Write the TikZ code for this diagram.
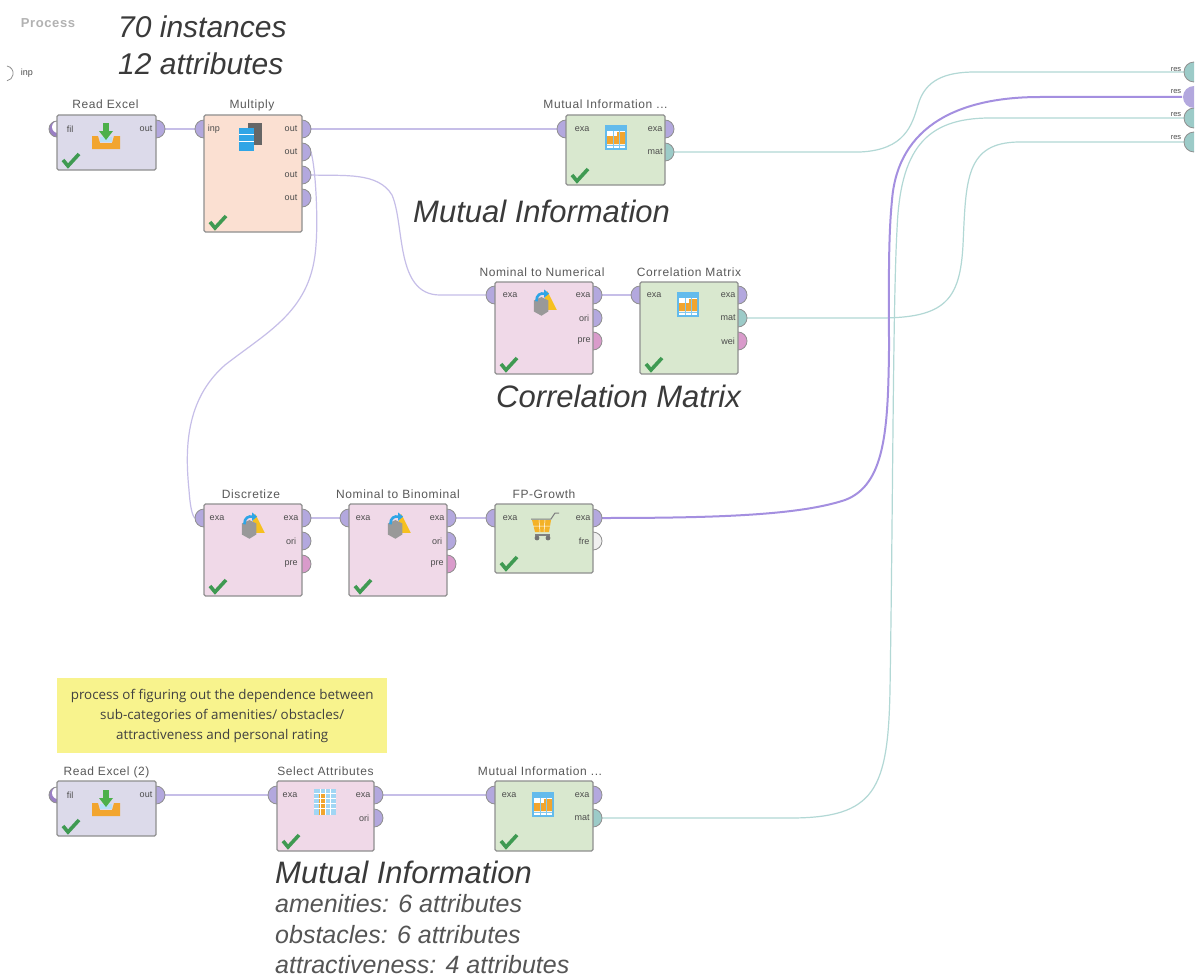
\documentclass[tikz,border=0pt]{standalone}
\usepackage{fontspec}
\setmainfont{Liberation Sans}
\newfontfamily\notefont{Open Sans}
\newfontfamily\titlefont[LetterSpace=5]{Liberation Sans}
\definecolor{opgray}{HTML}{8F8F8F}
\definecolor{wirep}{HTML}{C6BEE8}
\definecolor{wirepd}{HTML}{A48FE0}
\definecolor{wiret}{HTML}{B2D8D5}
\definecolor{portp}{HTML}{B3A8DE}
\definecolor{portt}{HTML}{9CCBC8}
\definecolor{portm}{HTML}{D99BCB}
\definecolor{portw}{HTML}{F0F0F0}
\definecolor{fillread}{HTML}{DCDAEA}
\definecolor{fillmult}{HTML}{FBE0D2}
\definecolor{fillgreen}{HTML}{D9E8CF}
\definecolor{fillpink}{HTML}{F0D9E8}
\definecolor{notey}{HTML}{F8F38D}
\definecolor{bigtext}{HTML}{3A3A3A}
\definecolor{subtext}{HTML}{555555}
\definecolor{icoblue}{HTML}{2FA5E6}
\definecolor{icoor}{HTML}{F2A52E}
\definecolor{icogreen}{HTML}{4CB04A}
\definecolor{chk}{HTML}{3F9A52}
\definecolor{crescent}{HTML}{9A7FC4}
\tikzset{
  opbox/.style={draw=opgray,line width=1.3pt,rounded corners=1.5pt,anchor=north west,inner sep=0pt,outer sep=0pt},
  optitle/.style={font=\titlefont\fontsize{12}{14}\selectfont,text=black!65,anchor=base,inner sep=0pt},
  portlab/.style={font=\fontsize{9}{10}\selectfont,text=black!70,inner sep=0pt},
  bigital/.style={font=\fontsize{31}{34}\itshape\selectfont,text=bigtext,anchor=base west,inner sep=0pt},
  subital/.style={font=\fontsize{25}{28}\itshape\selectfont,text=subtext,anchor=base west,inner sep=0pt},
  wireP/.style={draw=wirep,line width=1.2pt},
  wireT/.style={draw=wiret,line width=1.2pt},
  wireF/.style={draw=wirepd,line width=2pt},
}
% half discs: #1 x of flat side, #2 y, #3 radius, #4 colour
\newcommand{\portR}[4]{\fill[#4] (#1,#2-#3) arc[start angle=90,end angle=-90,radius=#3pt] -- cycle;
  \draw[opgray,line width=.8pt] (#1,#2-#3) arc[start angle=90,end angle=-90,radius=#3pt];}
\newcommand{\portL}[4]{\fill[#4] (#1,#2-#3) arc[start angle=90,end angle=270,radius=#3pt] -- cycle;
  \draw[opgray,line width=.8pt] (#1,#2-#3) arc[start angle=90,end angle=270,radius=#3pt];}
\newcommand{\portC}[2]{\fill[crescent] (#1,#2-8) arc[start angle=90,end angle=270,radius=8pt] -- cycle;
  \fill[white] (#1+1,#2-2) circle (6pt);
  \draw[opgray,line width=.8pt] (#1,#2-8) arc[start angle=90,end angle=270,radius=8pt];}
\newcommand{\opbx}[8]{% name x y w h fill title titleoffset
  \node[opbox,fill=#6,minimum width=#4pt,minimum height=#5pt] (#1) at (#2,#3) {};
  \node[optitle] (#1-t) at (#2+#4/2+#8,#3-6) {#7};
  \chkm{#2+13}{#3+#5-9}}
\newcommand{\chkm}[2]{\draw[chk,line width=3.6pt] (#1-7,#2-1) -- (#1-2,#2+5) -- (#1+9,#2-7);}
\newcommand{\icoimport}[2]{\begin{scope}[shift={(#1,#2)}]
  \fill[icoor] (-14,-1) -- (-8,-1) -- (-6,6) -- (6,6) -- (8,-1) -- (14,-1) -- (14,12) -- (-14,12) -- cycle;
  \fill[icoblue!35] (-6,0) rectangle (6,5);
  \fill[icogreen] (-3,-14) rectangle (3,-6); \fill[icogreen] (-7,-6) -- (7,-6) -- (0,3) -- cycle;
\end{scope}}
\newcommand{\icomult}[2]{\begin{scope}[shift={(#1,#2)}]
  \fill[black!60] (-4,-14) rectangle (10,8);
  \fill[icoblue] (-13,-9) rectangle (2,14);
  \draw[white,line width=.5pt] (-13,-3) -- (2,-3) (-13,4) -- (2,4);
\end{scope}}
\newcommand{\icotable}[2]{\begin{scope}[shift={(#1,#2)}]
  \fill[icoblue!75] (-11,-12) rectangle (11,13);
  \fill[white] (-9,-6) rectangle (9,11);
  \fill[icoor] (-9,-1) -- (1,-1) -- (1,-5) -- (9,-5) -- (9,7) -- (-9,7) -- cycle;
  \draw[icoblue!60,line width=.5pt] (-3,-6) -- (-3,11) (3,-6) -- (3,11) (-9,8) -- (9,8);
\end{scope}}
\newcommand{\icosel}[2]{\begin{scope}[shift={(#1,#2)}]
  \fill[icoblue!45] (-11,-13) rectangle (11,13);
  \fill[icoor] (-6,-9) rectangle (0,13);
  \draw[white,line width=.7pt] (-11,-9) -- (11,-9) (-11,-4) -- (11,-4) (-11,1) -- (11,1) (-11,6) -- (11,6) (-5,-13) -- (-5,13) (0,-13) -- (0,13) (5,-13) -- (5,13);
\end{scope}}
\newcommand{\icoconv}[2]{\begin{scope}[shift={(#1,#2)},scale=.85]
  \fill[icoor!70!yellow] (4,-14) -- (15,8) -- (-4,8) -- cycle;
  \fill[black!40] (-12,-3) -- (-3,-7) -- (5,-3) -- (5,10) -- (-3,15) -- (-12,10) -- cycle;
  \draw[icoblue,line width=2.6pt] (-9,-2) .. controls (-9,-10) and (-4,-12) .. (1,-11);
  \fill[icoblue] (0,-16) -- (6,-11) -- (0,-6) -- cycle;
\end{scope}}
\newcommand{\icocart}[2]{\begin{scope}[shift={(#1,#2)}]
  \draw[black!50,line width=1pt] (-13,-7) -- (7,-7) -- (11,-13) -- (15,-13);
  \fill[icoor!85!yellow] (-12,-6) -- (7,-6) -- (5,6) -- (-9,6) -- cycle;
  \draw[white,line width=.5pt] (-11,0) -- (6,0) (-5,-6) -- (-4,6) (1,-6) -- (0,6);
  \draw[black!50,line width=1.4pt] (-9,9) -- (6,9);
  \fill[black!55] (-7,12) circle (2.4pt) (4,12) circle (2.4pt);
\end{scope}}
\begin{document}
\begin{tikzpicture}[x=1pt,y=-1pt]
\useasboundingbox (0,0) rectangle (1198,979);
\fill[white] (0,0) rectangle (1198,979);
% connection points
\coordinate (re-o) at (165,129); \coordinate (mu-i) at (195,129);
\coordinate (mu-o1) at (311,129); \coordinate (mu-o2) at (311,152); \coordinate (mu-o3) at (311,175);
\coordinate (mi-i) at (557,129); \coordinate (mi-o) at (674,152);
\coordinate (nn-i) at (486,295); \coordinate (nn-o) at (602,295);
\coordinate (cm-i) at (631,295); \coordinate (cm-o) at (747,318);
\coordinate (di-i) at (195,518); \coordinate (di-o) at (311,518);
\coordinate (nb-i) at (340,518); \coordinate (nb-o) at (456,518);
\coordinate (fp-i) at (486,518); \coordinate (fp-o) at (602,518);
\coordinate (r2-o) at (165,795); \coordinate (sa-i) at (268,795); \coordinate (sa-o) at (383,795);
\coordinate (m2-i) at (486,795); \coordinate (m2-o) at (602,818);
\coordinate (res1) at (1185,72); \coordinate (res2) at (1182,97); \coordinate (res3) at (1185,118); \coordinate (res4) at (1185,142);
% connectors
\draw[wireP] (re-o) -- (mu-i);
\draw[wireP] (mu-o1) -- (mi-i);
\draw[wireP] (mu-o2) .. controls (316,170) and (318,220) .. (316,245)
  .. controls (312,310) and (270,330) .. (225,365)
  .. controls (185,400) and (185,450) .. (189,490)
  .. controls (190,505) and (192,516) .. (di-i);
\draw[wireP] (mu-o3) .. controls (345,176) and (378,172) .. (392,195)
  .. controls (405,225) and (395,295) .. (440,295) -- (nn-i);
\draw[wireP] (nn-o) -- (cm-i);
\draw[wireP] (di-o) -- (nb-i);
\draw[wireP] (nb-o) -- (fp-i);
\draw[wireP] (r2-o) -- (sa-i);
\draw[wireP] (sa-o) -- (m2-i);
\draw[wireT] (mi-o) -- (860,152) .. controls (905,150) and (912,125) .. (918,105)
  .. controls (925,80) and (945,72) .. (975,72) -- (res1);
\draw[wireT] (cm-o) -- (880,318) .. controls (945,318) and (960,300) .. (963,245)
  .. controls (966,180) and (965,142) .. (1020,142) -- (res4);
\draw[wireT] (m2-o) -- (790,818) .. controls (875,818) and (888,790) .. (890,690)
  .. controls (893,500) and (893,300) .. (897,230)
  .. controls (900,150) and (925,118) .. (990,118) -- (res3);
\draw[wireF] (fp-o) .. controls (720,518) and (800,515) .. (845,500)
  .. controls (885,485) and (888,430) .. (889,350)
  .. controls (889,290) and (888,240) .. (892,200)
  .. controls (898,125) and (960,97) .. (1040,97) -- (res2);
% ports
\foreach \px/\py in {156/129,302/129,302/152,302/175,302/198,665/129,593/295,593/318,738/295,447/518,447/541,302/518,302/541,593/518,156/795,374/795,374/818,593/795}
  {\portR{\px}{\py}{9}{portp}}
\foreach \px/\py in {204/129,566/129,495/295,640/295,204/518,349/518,495/518,277/795,495/795}
  {\portL{\px}{\py}{9}{portp}}
\portR{665}{152}{9}{portt} \portR{738}{318}{9}{portt} \portR{593}{818}{9}{portt}
\portR{593}{341}{9}{portm} \portR{738}{341}{9}{portm} \portR{302}{564}{9}{portm} \portR{447}{564}{9}{portm}
\portR{593}{541}{9}{portw}
\portC{57}{129}
\portC{57}{795}
\foreach \py/\pc in {72/portt,118/portt,142/portt}
  {\portL{1194}{\py}{10}{\pc}}
\fill[portp] (1194,86) arc[start angle=90,end angle=270,radius=11pt] -- cycle;
% operators
\opbx{re}{57}{115}{99}{55}{fillread}{Read Excel}{-1}
\opbx{mu}{204}{115}{98}{117}{fillmult}{Multiply}{-1}
\opbx{mi}{566}{115}{99}{70}{fillgreen}{Mutual Information ...}{-10}
\opbx{nn}{495}{282}{98}{92}{fillpink}{Nominal to Numerical}{-2}
\opbx{cm}{640}{282}{98}{92}{fillgreen}{Correlation Matrix}{0}
\opbx{di}{204}{504}{98}{92}{fillpink}{Discretize}{-2}
\opbx{nb}{349}{504}{98}{92}{fillpink}{Nominal to Binominal}{0}
\opbx{fp}{495}{504}{98}{69}{fillgreen}{FP-Growth}{0}
\opbx{r2}{57}{781}{99}{55}{fillread}{Read Excel (2)}{0}
\opbx{sa}{277}{781}{97}{70}{fillpink}{Select Attributes}{0}
\opbx{m2}{495}{781}{98}{70}{fillgreen}{Mutual Information ...}{-4}
% port labels
\foreach \nm/\lx/\ly/\lt in {a1/70/129/fil,a2/146/129/out,a3/214/129/inp,a4/291/129/out,a5/291/152/out,a6/291/175/out,a7/291/198/out,
  a8/582/129/exa,a9/655/129/exa,a10/655/152/mat,
  b1/510/295/exa,b2/583/295/exa,b3/584/318/ori,b4/584/341/pre,
  b5/654/295/exa,b6/728/295/exa,b7/728/318/mat,b8/728/341/wei,
  c1/217/518/exa,c2/291/518/exa,c3/291/541/ori,c4/291/564/pre,
  c5/363/518/exa,c6/437/518/exa,c7/437/541/ori,c8/437/564/pre,
  c9/510/518/exa,c10/583/518/exa,c11/584/541/fre,
  d1/70/795/fil,d2/146/795/out,d3/290/795/exa,d4/363/795/exa,d5/364/818/ori,d6/509/795/exa,d7/582/795/exa,d8/582/818/mat}
  {\node[portlab] (\nm) at (\lx,\ly) {\lt};}
% icons
\icoimport{106}{137}
\icomult{252}{137}
\icotable{616}{137}
\icoconv{252}{526}
\icoconv{398}{526}
\icoconv{544}{303}
\icotable{688}{304}
\icocart{544}{526}
\icoimport{106}{804}
\icosel{325}{802}
\icotable{543}{804}
\foreach \nm/\lx/\ly in {r1/1176/70,r2l/1176/92,r3/1176/115,r4/1176/138}
  {\node[portlab,font=\fontsize{7.5}{8}\selectfont] (\nm) at (\lx,\ly) {res};}
% free texts
\node[font=\titlefont\fontsize{13}{14}\bfseries\selectfont,text=black!30,inner sep=0pt] (proc) at (48,23) {Process};
\draw[opgray,line width=.8pt] (7,66) arc[start angle=80,end angle=-80,radius=7.5pt];
\node[portlab] (hp) at (27,73) {inp};
\node[bigital,font=\fontsize{30}{34}\itshape\selectfont] (t1) at (118,38) {70 instances};
\node[bigital,font=\fontsize{30}{34}\itshape\selectfont] (t2) at (118,75) {12 attributes};
\node[bigital] (t3) at (413,222) {Mutual Information};
\node[bigital] (t4) at (496,407) {Correlation Matrix};
\node[bigital] (t5) at (275,883) {Mutual Information};
\node[subital] (t6) at (275,912) {amenities: 6 attributes};
\node[subital] (t7) at (275,943) {obstacles: 6 attributes};
\node[subital] (t8) at (275,973) {attractiveness: 4 attributes};
\node[fill=notey,minimum width=330pt,minimum height=75pt,anchor=north west,inner sep=0pt,
  align=center,text=black!75,font=\notefont\fontsize{13.4}{20}\selectfont] (note) at (57,678)
  {process of figuring out the dependence between\\sub-categories of amenities/ obstacles/\\attractiveness and personal rating};
\end{tikzpicture}
\end{document}
